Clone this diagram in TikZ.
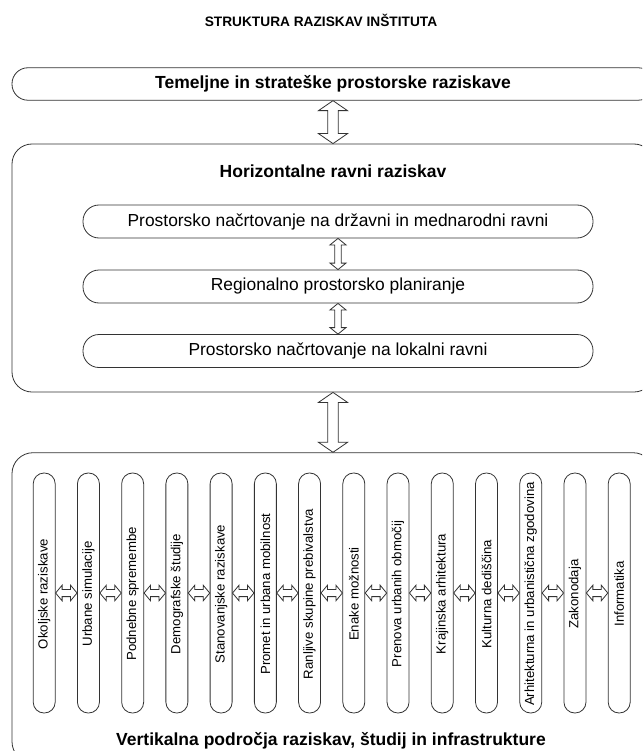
\documentclass[tikz,border=0pt]{standalone}
\usepackage{fontspec}
\setmainfont{Liberation Sans}
\usetikzlibrary{calc}
\tikzset{
  ln/.style={draw=black!80, line width=0.8pt},
  bigbox/.style={ln, rectangle, rounded corners=#1, inner sep=0pt},
  hbox/.style={ln, rectangle, rounded corners=16pt, inner sep=0pt, minimum width=510pt, minimum height=33pt, font=\fontsize{17.4}{19}\selectfont},
  pill/.style={ln, rectangle, rounded corners=10.8pt, inner sep=0pt, minimum width=22pt, minimum height=240pt},
  ptext/.style={rotate=90, font=\fontsize{13.2}{14}\selectfont, inner sep=0pt},
  btitle/.style={font=\bfseries\fontsize{17.5}{19}\selectfont, inner sep=0pt},
  arr/.style={ln, fill=white, line join=miter},
}
\newcommand\vdarr[5]{% from(top), to(bottom), shaft half, head half, head length
  \draw[arr] let \p1=(#1), \p2=(#2) in
    (\x1,\y1) -- (\x1+#4,\y1-#5) -- (\x1+#3,\y1-#5) -- (\x1+#3,\y2+#5) -- (\x1+#4,\y2+#5)
    -- (\x1,\y2) -- (\x1-#4,\y2+#5) -- (\x1-#3,\y2+#5) -- (\x1-#3,\y1-#5) -- (\x1-#4,\y1-#5) -- cycle;}
\newcommand\hdarr[5]{% from(left), to(right), shaft half, head half, head length
  \draw[arr] let \p1=(#1), \p2=(#2) in
    (\x1,\y1) -- (\x1+#5,\y1+#4) -- (\x1+#5,\y1+#3) -- (\x2-#5,\y1+#3) -- (\x2-#5,\y1+#4)
    -- (\x2,\y1) -- (\x2-#5,\y1-#4) -- (\x2-#5,\y1-#3) -- (\x1+#5,\y1-#3) -- (\x1+#5,\y1-#4) -- cycle;}
\begin{document}
\begin{tikzpicture}[x=1pt,y=-1pt]
\useasboundingbox (0,0) rectangle (642,751);
\clip (0,0) rectangle (642,751);

\node[btitle, font=\bfseries\fontsize{13.7}{15}\selectfont] (title) at (321,20) {STRUKTURA RAZISKAV INŠTITUTA};

% top box
\node[bigbox=16pt, minimum width=642pt, minimum height=32.5pt, btitle] (top) at (333,84) {Temeljne in strateške prostorske raziskave};

% middle box
\node[bigbox=20pt, minimum width=642pt, minimum height=248pt] (mid) at (333,268) {};
\node[btitle] (midt) at (333,171) {Horizontalne ravni raziskav};
\node[hbox] (h1) at (338,221.5) {Prostorsko načrtovanje na državni in mednarodni ravni};
\node[hbox] (h2) at (338,286.5) {Regionalno prostorsko planiranje};
\node[hbox] (h3) at (338,351) {Prostorsko načrtovanje na lokalni ravni};

% bottom box
\node[bigbox=21pt, minimum width=642pt, minimum height=310pt] (bot) at (333,607.7) {};
\node[btitle] (bott) at (331,741) {Vertikalna področja raziskav, študij in infrastrukture};

% pills
\foreach \t [count=\i] in {Okoljske raziskave, Urbane simulacije, Podnebne spremembe, Demografske študije, Stanovanjske raziskave, Promet in urbana mobilnost, Ranljive skupine prebivalstva, Enake možnosti, Prenova urbanih območij, Krajinska arhitektura, Kulturna dediščina, Arhitekturna in urbanistična zgodovina, Zakonodaja, Informatika}{
  \node[pill] (p\i) at ({44.2+44.23*(\i-1)},593) {};
  \node[ptext] (pt\i) at ({44.2+44.23*(\i-1)},594) {\t};
}

% arrows
\vdarr{top.south}{mid.north}{5.2pt}{14.5pt}{10pt}
\vdarr{mid.south}{bot.north}{5.2pt}{14.5pt}{10pt}
\vdarr{h1.south}{h2.north}{3.2pt}{8pt}{6.5pt}
\vdarr{h2.south}{h3.north}{3.2pt}{8pt}{6.5pt}
\foreach \i in {1,...,13}{
  \pgfmathtruncatemacro\j{\i+1}
  \hdarr{p\i.east}{p\j.west}{3.6pt}{7.8pt}{6.5pt}
}
\end{tikzpicture}
\end{document}
